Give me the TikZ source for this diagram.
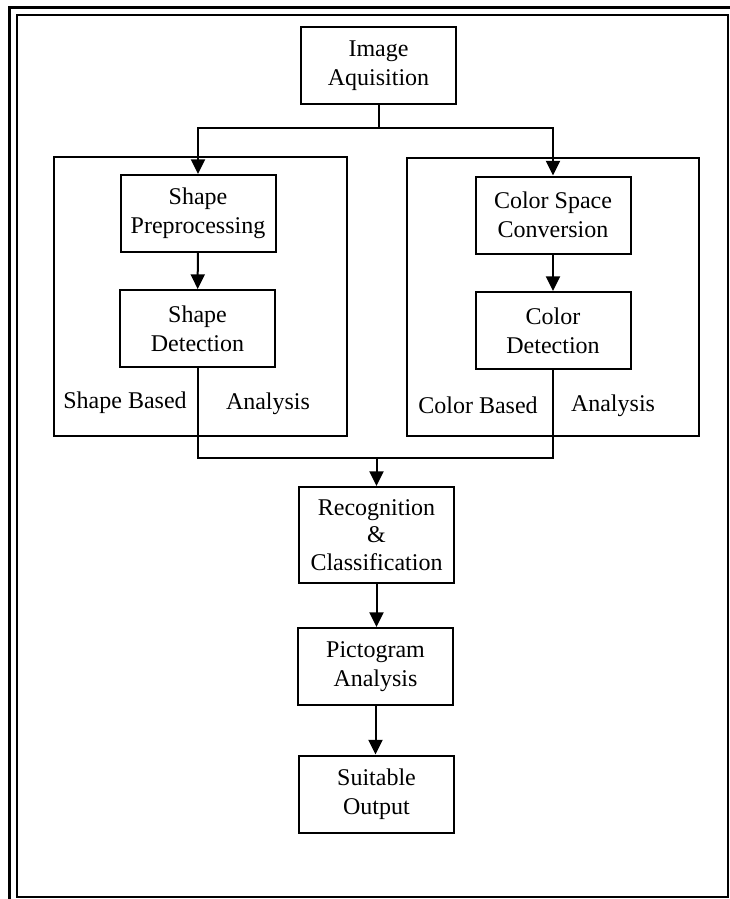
\documentclass[tikz,border=0pt]{standalone}
\usepackage{fontspec}
\setmainfont{Liberation Serif}
\usetikzlibrary{arrows.meta}

\tikzset{every picture/.style={line width=0.75pt}}
\tikzset{
  procbox/.style={draw, line width=1.5pt, minimum width=116.25pt, minimum height=57.75pt,
    align=center, inner sep=0pt, font=\fontsize{18}{21.75}\selectfont},
  groupbox/.style={draw, line width=1.5pt, inner sep=0pt},
  lbl/.style={inner sep=0.75pt, font=\fontsize{18}{21.75}\selectfont},
  wire/.style={line width=1.5pt},
  flow/.style={line width=1.5pt, -{Triangle[width=10.5pt,length=11pt]}}
}

\begin{document}
\begin{tikzpicture}[x=0.75pt,y=0.75pt,yscale=-1,xscale=1]
\useasboundingbox (0,0) rectangle (730,899);

%Frame
\draw [line width=2.25pt] (9,899) -- (9,8) -- (730,8) ;
\draw [line width=1.5pt] (17,15) rectangle (728,897) ;

%Group boxes
\node [groupbox, minimum width=219.75pt, minimum height=209.25pt] (shpgrp) at (200.5,296.5) {};
\node [groupbox, minimum width=219pt, minimum height=208.5pt] (colgrp) at (553,297) {};

%Process boxes
\node [procbox] (img) at (378.5,65.5) {Image\\Aquisition};
\node [procbox] (shpre) at (198,213.5) {Shape\\Preprocessing};
\node [procbox] (shdet) at (197.5,328.5) {Shape\\Detection};
\node [procbox] (colconv) at (553,215) {Color Space\\Conversion};
\node [procbox] (coldet) at (553,330.5) {Color\\Detection};
\node [procbox, minimum height=72pt, font=\fontsize{18}{20.5}\selectfont] (recog) at (376.5,535) {Recognition\\\&\\Classification};
\node [procbox] (picto) at (375.5,666.5) {Pictogram\\Analysis};
\node [procbox] (outp) at (376.5,794) {Suitable\\Output};

% Text Node
\node [lbl] (shlbla) at (125,403) {Shape Based};
\node [lbl] (shlblb) at (268,404) {Analysis};
\node [lbl] (collbla) at (478,405) {Color Based};
\node [lbl] (collblb) at (613,406) {Analysis};

%Straight Lines
\coordinate (split) at (378.5,128);
\coordinate (merge) at (376.5,458);
\draw [wire] (img.south) -- (split) ;
\draw [flow] (split) -| (shpre.north) ;
\draw [flow] (split) -| (colconv.north) ;
\draw [flow] (shpre) -- (shdet) ;
\draw [flow] (colconv) -- (coldet) ;
\draw [wire] (shdet.south) |- (merge) ;
\draw [wire] (coldet.south) |- (merge) ;
\draw [flow] (merge) -- (recog.north) ;
\draw [flow] (recog.south) -- (recog.south |- picto.north) ;
\draw [flow] (picto.south) -- (picto.south |- outp.north) ;

\end{tikzpicture}
\end{document}
